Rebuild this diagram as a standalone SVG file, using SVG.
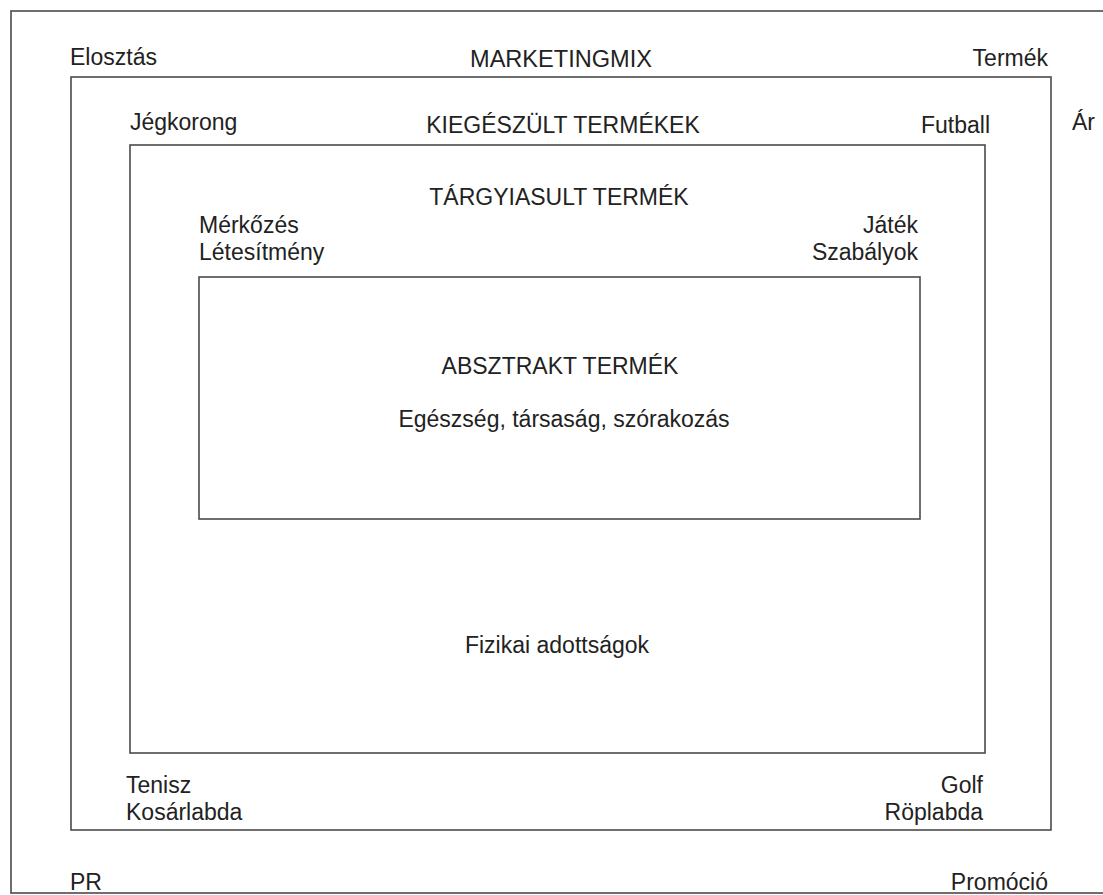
<svg xmlns="http://www.w3.org/2000/svg" width="1103" height="895" viewBox="0 0 1103 895">
  <style>
    .frame { fill: none; stroke: #4a4a4a; stroke-width: 1.6; }
    text { font-family: "Liberation Sans", Arial, sans-serif; font-size: 23px; fill: #222; }
    .mid { text-anchor: middle; }
    .end { text-anchor: end; }
  </style>
  <rect width="1103" height="895" fill="#ffffff"/>

  <!-- Level 1: marketing mix -->
  <g id="marketingmix">
    <rect class="frame" x="11" y="11" width="1100" height="882"/>
    <text class="mid" x="561" y="67" textLength="182" lengthAdjust="spacingAndGlyphs">MARKETINGMIX</text>
    <text x="70" y="65">Elosztás</text>
    <text class="end" x="1048" y="66">Termék</text>
    <text x="1072" y="130">Ár</text>
    <text x="70" y="890">PR</text>
    <text class="end" x="1048" y="890">Promóció</text>
  </g>

  <!-- Level 2: finished products -->
  <g id="kiegeszult">
    <rect class="frame" x="71" y="77" width="980" height="753"/>
    <text class="mid" x="563" y="133">KIEGÉSZÜLT TERMÉKEK</text>
    <text x="130" y="130">Jégkorong</text>
    <text class="end" x="990" y="133">Futball</text>
    <text x="126" y="793">Tenisz</text>
    <text x="126" y="820">Kosárlabda</text>
    <text class="end" x="983" y="793">Golf</text>
    <text class="end" x="983" y="820">Röplabda</text>
  </g>

  <!-- Level 3: tangible product -->
  <g id="targyiasult">
    <rect class="frame" x="130" y="145" width="855" height="608"/>
    <text class="mid" x="559" y="205">TÁRGYIASULT TERMÉK</text>
    <text x="199" y="233">Mérkőzés</text>
    <text x="199" y="260">Létesítmény</text>
    <text class="end" x="918" y="233">Játék</text>
    <text class="end" x="918" y="260">Szabályok</text>
    <text class="mid" x="557" y="653">Fizikai adottságok</text>
  </g>

  <!-- Level 4: abstract product -->
  <g id="absztrakt">
    <rect class="frame" x="199" y="277" width="721" height="242"/>
    <text class="mid" x="560" y="374">ABSZTRAKT TERMÉK</text>
    <text class="mid" x="564" y="427">Egészség, társaság, szórakozás</text>
  </g>

  <g id="connectors"/>
</svg>
